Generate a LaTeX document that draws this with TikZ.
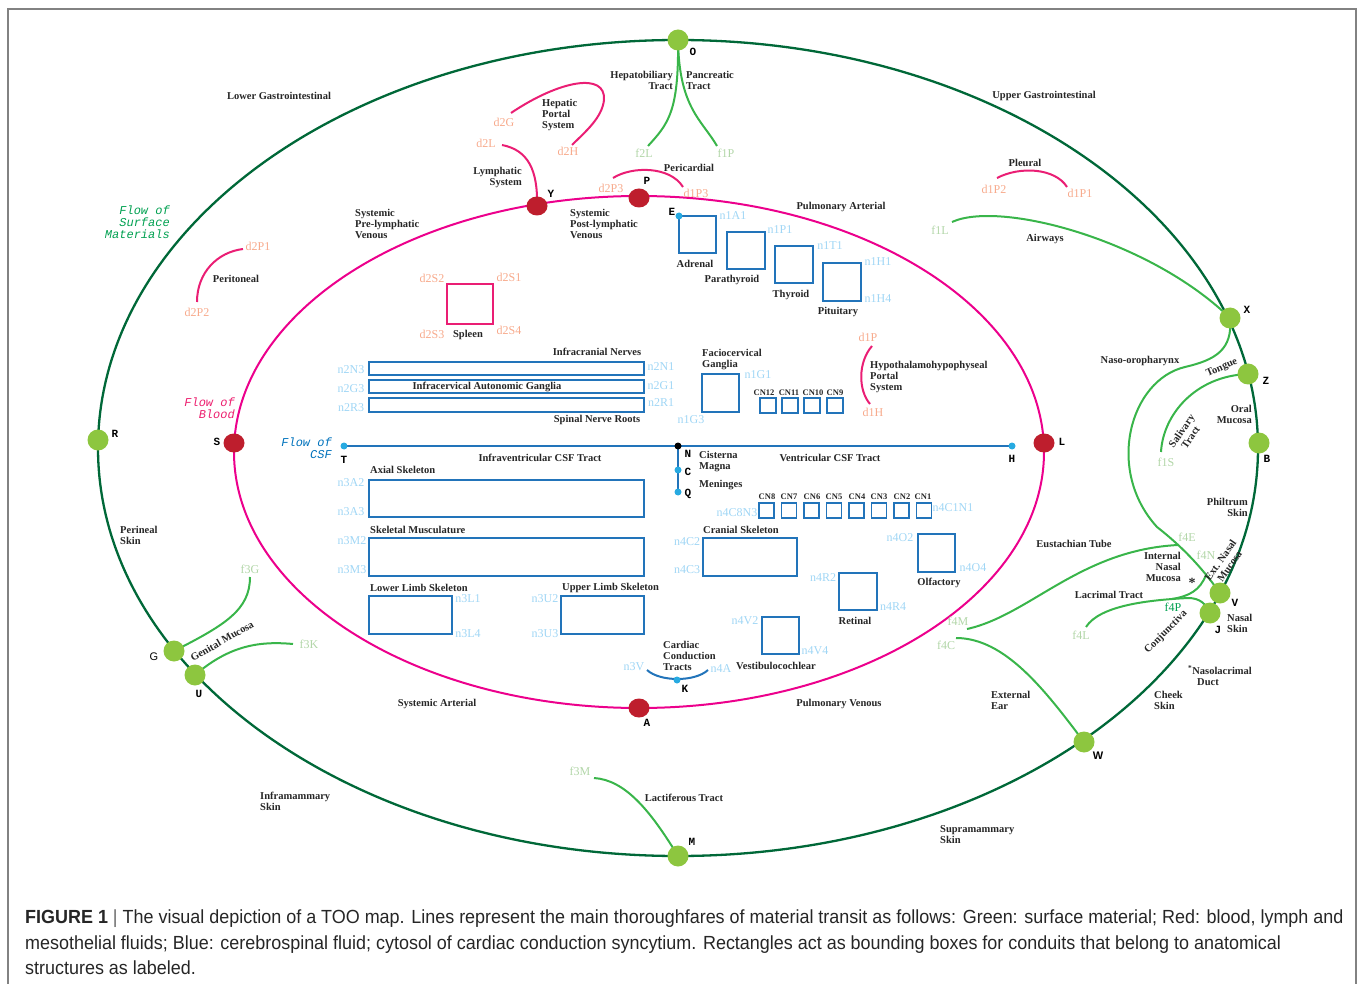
\documentclass[tikz,border=0pt]{standalone}
\usepackage{fontspec}
\setmainfont{Liberation Serif}
\newfontfamily\MonoF{Liberation Mono}
\newfontfamily\SansF{Liberation Sans}
\newfontfamily\CapF[FakeStretch=0.945]{Liberation Sans}
\usetikzlibrary{backgrounds,shapes.geometric}
\definecolor{dkgreen}{RGB}{0,104,56}
\definecolor{lgreen}{RGB}{57,181,74}
\definecolor{nodegreen}{RGB}{141,198,63}
\definecolor{lbgreen}{RGB}{178,214,168}
\definecolor{txtgreen}{RGB}{0,160,80}
\definecolor{magc}{RGB}{236,0,140}
\definecolor{pinkc}{RGB}{234,30,116}
\definecolor{reddot}{RGB}{190,30,45}
\definecolor{salmon}{RGB}{247,170,140}
\definecolor{boxblue}{RGB}{34,116,186}
\definecolor{dotblue}{RGB}{39,170,225}
\definecolor{lblblue}{RGB}{160,214,245}
\definecolor{csfblue}{RGB}{0,114,188}
\definecolor{bloodc}{RGB}{236,30,110}
\definecolor{framec}{RGB}{130,130,130}
\begin{document}
\begin{tikzpicture}[x=1pt,y=-1pt,
  gdot/.style={circle,fill=nodegreen,minimum size=21pt,inner sep=0pt},
  rdot/.style={ellipse,fill=reddot,minimum width=21pt,minimum height=19pt,inner sep=0pt},
  bdot/.style={circle,fill=dotblue,minimum size=7pt,inner sep=0pt},
  kdot/.style={circle,fill=black,minimum size=7pt,inner sep=0pt},
  lett/.style={font={\MonoF\bfseries\fontsize{11}{11}\selectfont},inner sep=0pt},
  slett/.style={font={\SansF\fontsize{11}{11}\selectfont},inner sep=0pt},
  lbl/.style={font={\bfseries\fontsize{10.5}{11}\selectfont},inner sep=0pt,text=black!85},
  cnl/.style={font={\bfseries\fontsize{8.5}{9}\selectfont},inner sep=0pt,text=black!85},
  nl/.style={font={\fontsize{12}{12}\selectfont},inner sep=0pt,text=lblblue},
  dl/.style={font={\fontsize{12}{12}\selectfont},inner sep=0pt,text=salmon},
  fl/.style={font={\fontsize{12}{12}\selectfont},inner sep=0pt,text=lbgreen},
  flowt/.style={font={\MonoF\itshape\fontsize{12}{12}\selectfont},inner sep=0pt,align=right},
  bx/.style={draw=boxblue,line width=2pt},
  cnb/.style={draw=boxblue,line width=1.8pt},
  gline/.style={draw=lgreen,line width=2pt},
  pline/.style={draw=pinkc,line width=2pt},
  capt/.style={font={\CapF\fontsize{19}{19}\selectfont},inner sep=0pt,text=black!85}
]
\useasboundingbox (0,0) rectangle (1358,984);
\draw[framec,line width=1.5pt] (8,984) -- (8,9) -- (1356,9) -- (1356,984);

% ---------- rectangles ----------
\draw[bx] (369,362) rectangle (644,375);
\draw[bx] (369,380) rectangle (644,393);
\draw[bx] (369,398) rectangle (644,412);
\draw[bx] (369,480) rectangle (644,517);
\draw[bx] (369,538) rectangle (644,576);
\draw[bx] (369,596) rectangle (452,634);
\draw[bx] (561,596) rectangle (644,634);
\draw[bx] (702,374) rectangle (739,412);
\draw[bx] (679,216) rectangle (716,253);
\draw[bx] (727,232) rectangle (765,269);
\draw[bx] (775,246) rectangle (813,283);
\draw[bx] (823,263) rectangle (861,301);
\draw[bx] (703,538) rectangle (797,576);
\draw[bx] (918,534) rectangle (955,572);
\draw[bx] (839,573) rectangle (877,610);
\draw[bx] (762,617) rectangle (799,654);
\draw[pline] (447,284) rectangle (493,324);
\foreach \x in {760,782,804,827}{\draw[cnb] (\x,398) rectangle ++(16,15);}
\foreach \x in {759,781.5,804,826.5,849,871.5,894,916.5}{\draw[cnb] (\x,503) rectangle ++(15,15);}

% ---------- dots ----------
\node[gdot] (O) at (678,40) {};
\node[gdot] (R) at (98,440) {};
\node[gdot] (X) at (1230,318) {};
\node[gdot] (Z) at (1248,374) {};
\node[gdot] (B) at (1259,443) {};
\node[gdot] (V) at (1220,593) {};
\node[gdot] (J) at (1210,613) {};
\node[gdot] (W) at (1084,742) {};
\node[gdot] (M) at (678,856) {};
\node[gdot] (G) at (174,651) {};
\node[gdot] (U) at (195,675) {};
\node[rdot] (Y) at (537,206) {};
\node[rdot] (P) at (639,198) {};
\node[rdot] (S) at (234,443) {};
\node[rdot] (L) at (1044,443) {};
\node[rdot] (A) at (639,708) {};
\node[bdot] (T) at (344,446) {};
\node[bdot] (H) at (1012,446) {};
\node[kdot] (N) at (678,446) {};
\node[bdot] (C) at (678,470) {};
\node[bdot] (Q) at (678,492) {};
\node[bdot] (E) at (679,216) {};
\node[bdot] (K) at (677,680) {};

% ---------- letters ----------
\node[lett] (lO) at (693,52) {O};
\node[lett] (lR) at (115,434) {R};
\node[lett] (lX) at (1247,310) {X};
\node[lett] (lZ) at (1266,381) {Z};
\node[lett] (lB) at (1267,459) {B};
\node[lett] (lV) at (1235,603) {V};
\node[lett] (lJ) at (1218,630) {J};
\node[slett,font={\SansF\bfseries\fontsize{11}{11}\selectfont}] (lW) at (1098,756) {W};
\node[lett] (lM) at (692,842) {M};
\node[slett] (lG) at (154,657) {G};
\node[lett] (lU) at (199,694) {U};
\node[lett] (lY) at (551,194) {Y};
\node[lett] (lP) at (647,181) {P};
\node[lett] (lS) at (217,442) {S};
\node[lett] (lL) at (1062,442) {L};
\node[lett] (lA) at (647,723) {A};
\node[lett] (lT) at (344,460) {T};
\node[lett] (lH) at (1012,459) {H};
\node[lett] (lN) at (688,454) {N};
\node[lett] (lC) at (688,472) {C};
\node[lett] (lQ) at (688,494) {Q};
\node[lett] (lE) at (672,212) {E};
\node[lett] (lK) at (685,689) {K};

% ---------- flow texts ----------
\node[flowt,text=txtgreen,anchor=east] (fsm) at (170,222) {Flow of\\Surface\\Materials};
\node[flowt,text=bloodc,anchor=east] (fbl) at (235,408) {Flow of\\Blood};
\node[flowt,text=csfblue,anchor=east] (fcsf) at (332,448) {Flow of\\CSF};

% ---------- black labels ----------
\node[lbl] (t1) at (279,96) {Lower Gastrointestinal};
\node[lbl] (t2) at (1044,96) {Upper Gastrointestinal};
\node[lbl,anchor=east,align=right] (t3) at (673,80.5) {Hepatobiliary\\Tract};
\node[lbl,anchor=west,align=left] (t4) at (686,80.5) {Pancreatic\\Tract};
\node[lbl,anchor=west,align=left] (t5) at (542,115) {Hepatic\\Portal\\System};
\node[lbl,anchor=east,align=right] (t6) at (522,177.5) {Lymphatic\\System};
\node[lbl] (t7) at (689,168) {Pericardial};
\node[lbl,anchor=west,align=left] (t8) at (355,224) {Systemic\\Pre-lymphatic\\Venous};
\node[lbl,anchor=west,align=left] (t9) at (570,224) {Systemic\\Post-lymphatic\\Venous};
\node[lbl] (t10) at (841,207) {Pulmonary Arterial};
\node[lbl] (t11) at (695,264) {Adrenal};
\node[lbl] (t12) at (732,280) {Parathyroid};
\node[lbl] (t13) at (791,295) {Thyroid};
\node[lbl] (t14) at (838,312) {Pituitary};
\node[lbl] (t15) at (1025,163) {Pleural};
\node[lbl] (t16) at (1045,239) {Airways};
\node[lbl] (t17) at (236,279) {Peritoneal};
\node[lbl] (t18) at (468,335) {Spleen};
\node[lbl] (t19) at (597,352) {Infracranial Nerves};
\node[lbl] (t20) at (487,387) {Infracervical Autonomic Ganglia};
\node[lbl] (t21) at (597,420) {Spinal Nerve Roots};
\node[lbl] (t22) at (540,458) {Infraventricular CSF Tract};
\node[lbl,anchor=west] (t23) at (370,470) {Axial Skeleton};
\node[lbl,anchor=west,align=left] (t24) at (702,359.5) {Faciocervical\\Ganglia};
\node[lbl,anchor=west,align=left] (t25) at (870,377) {Hypothalamohypophyseal\\Portal\\System};
\node[lbl] (t26) at (830,458) {Ventricular CSF Tract};
\node[lbl,anchor=west,align=left] (t27) at (699,461.5) {Cisterna\\Magna};
\node[lbl,anchor=west] (t28) at (699,485) {Meninges};
\node[lbl,anchor=west] (t29) at (370,530) {Skeletal Musculature};
\node[lbl,anchor=west] (t30) at (370,588) {Lower Limb Skeleton};
\node[lbl,anchor=west] (t31) at (562,588) {Upper Limb Skeleton};
\node[lbl,anchor=west] (t32) at (703,530) {Cranial Skeleton};
\node[lbl] (t33) at (939,583) {Olfactory};
\node[lbl] (t34) at (855,621) {Retinal};
\node[lbl] (t35) at (776,666) {Vestibulocochlear};
\node[lbl,anchor=west,align=left] (t36) at (663,656) {Cardiac\\Conduction\\Tracts};
\node[lbl] (t37) at (437,704) {Systemic Arterial};
\node[lbl] (t38) at (839,704) {Pulmonary Venous};
\node[lbl,anchor=west,align=left] (t39) at (991,700) {External\\Ear};
\node[lbl] (t40) at (1140,361) {Naso-oropharynx};
\node[lbl,rotate=24] (t41) at (1222,368) {Tongue};
\node[lbl,anchor=east,align=right] (t42) at (1252,414.5) {Oral\\Mucosa};
\node[lbl,rotate=55,align=center] (t43) at (1186,434) {Salivary\\Tract};
\node[lbl,anchor=east,align=right] (t44) at (1248,507.5) {Philtrum\\Skin};
\node[lbl] (t45) at (1074,544) {Eustachian Tube};
\node[lbl,anchor=east,align=right] (t46) at (1181,567) {Internal\\Nasal\\Mucosa};
\node[lbl,font={\bfseries\fontsize{14}{14}\selectfont}] (t47) at (1192,583) {*};
\node[lbl,rotate=55,align=center] (t48) at (1225,563) {Ext. Nasal\\Mucosa};
\node[lbl] (t49) at (1109,595) {Lacrimal Tract};
\node[lbl,rotate=45] (t50) at (1166,632) {Conjunctiva};
\node[lbl,anchor=west,align=left] (t51) at (1227,623.5) {Nasal\\Skin};
\node[lbl,anchor=west,align=left] (t52) at (1188,675.5) {\textsuperscript{*}Nasolacrimal\\\hspace*{9pt}Duct};
\node[lbl,anchor=west,align=left] (t53) at (1154,700.5) {Cheek\\Skin};
\node[lbl,anchor=west,align=left] (t54) at (940,834.5) {Supramammary\\Skin};
\node[lbl] (t55) at (684,798) {Lactiferous Tract};
\node[lbl,anchor=west,align=left] (t56) at (260,801) {Inframammary\\Skin};
\node[lbl,anchor=west,align=left] (t57) at (120,535.5) {Perineal\\Skin};
\node[lbl,rotate=30] (t58) at (222,641) {Genital Mucosa};
% CN labels
\node[cnl] (cn12) at (764,393) {CN12};
\node[cnl] (cn11) at (789,393) {CN11};
\node[cnl] (cn10) at (813,393) {CN10};
\node[cnl] (cn9) at (835,393) {CN9};
\node[cnl] (cn8) at (767,497) {CN8};
\node[cnl] (cn7) at (789,497) {CN7};
\node[cnl] (cn6) at (812,497) {CN6};
\node[cnl] (cn5) at (834,497) {CN5};
\node[cnl] (cn4) at (857,497) {CN4};
\node[cnl] (cn3) at (879,497) {CN3};
\node[cnl] (cn2) at (902,497) {CN2};
\node[cnl] (cn1) at (923,497) {CN1};

% ---------- small coloured labels ----------
\node[dl] (d2G) at (504,122) {d2G};
\node[dl] (d2L) at (486,143) {d2L};
\node[dl] (d2H) at (568,151) {d2H};
\node[fl] (f2L) at (644,153) {f2L};
\node[fl] (f1P) at (726,153) {f1P};
\node[dl] (d2P3) at (611,188) {d2P3};
\node[dl] (d1P3) at (696,193) {d1P3};
\node[nl] (n1A1) at (733,216) {n1A1};
\node[nl] (n1P1) at (780,230) {n1P1};
\node[nl] (n1T1) at (830,246) {n1T1};
\node[nl] (n1H1) at (878,262) {n1H1};
\node[nl] (n1H4) at (878,299) {n1H4};
\node[dl] (d1P2) at (994,189) {d1P2};
\node[dl] (d1P1) at (1080,193) {d1P1};
\node[fl] (f1L) at (940,230) {f1L};
\node[dl] (d2P1) at (258,246) {d2P1};
\node[dl] (d2P2) at (197,312) {d2P2};
\node[dl] (d2S2) at (432,278) {d2S2};
\node[dl] (d2S1) at (509,277) {d2S1};
\node[dl] (d2S3) at (432,334) {d2S3};
\node[dl] (d2S4) at (509,330) {d2S4};
\node[nl] (n2N3) at (351,370) {n2N3};
\node[nl] (n2G3) at (351,389) {n2G3};
\node[nl] (n2R3) at (351,408) {n2R3};
\node[nl] (n2N1) at (661,367) {n2N1};
\node[nl] (n2G1) at (661,386) {n2G1};
\node[nl] (n2R1) at (661,403) {n2R1};
\node[nl] (n1G1) at (758,375) {n1G1};
\node[nl] (n1G3) at (691,420) {n1G3};
\node[dl] (d1P) at (868,337) {d1P};
\node[dl] (d1H) at (873,412) {d1H};
\node[nl] (n3A2) at (351,483) {n3A2};
\node[nl] (n3A3) at (351,512) {n3A3};
\node[nl] (n3M2) at (352,541) {n3M2};
\node[nl] (n3M3) at (352,570) {n3M3};
\node[nl] (n3L1) at (468,599) {n3L1};
\node[nl] (n3L4) at (468,634) {n3L4};
\node[nl] (n3U2) at (545,599) {n3U2};
\node[nl] (n3U3) at (545,634) {n3U3};
\node[nl] (n4C8N3) at (737,513) {n4C8N3};
\node[nl] (n4C1N1) at (953,508) {n4C1N1};
\node[nl] (n4C2) at (687,542) {n4C2};
\node[nl] (n4C3) at (687,570) {n4C3};
\node[nl] (n4O2) at (900,538) {n4O2};
\node[nl] (n4O4) at (973,568) {n4O4};
\node[nl] (n4R2) at (823,578) {n4R2};
\node[nl] (n4R4) at (893,607) {n4R4};
\node[nl] (n4V2) at (745,621) {n4V2};
\node[nl] (n4V4) at (815,651) {n4V4};
\node[nl] (n3V) at (634,667) {n3V};
\node[nl] (n4A) at (721,669) {n4A};
\node[fl] (f1S) at (1166,462) {f1S};
\node[fl] (f4E) at (1187,537) {f4E};
\node[fl] (f4N) at (1206,555) {f4N};
\node[fl,text=txtgreen] (f4P) at (1173,607) {f4P};
\node[fl] (f4L) at (1081,635) {f4L};
\node[fl] (f4M) at (958,621) {f4M};
\node[fl] (f4C) at (946,645) {f4C};
\node[fl] (f3G) at (250,569) {f3G};
\node[fl] (f3K) at (309,644) {f3K};
\node[fl] (f3M) at (580,771) {f3M};

% ---------- curve end coordinates ----------
\coordinate (e2L) at (648,146);
\coordinate (e1P) at (717,146);
\coordinate (hpA) at (511,113);
\coordinate (hpB) at (572,145);
\coordinate (lyA) at (502,145);
\coordinate (pcA) at (613,178);
\coordinate (pcB) at (683,187);
\coordinate (plA) at (997,178);
\coordinate (plB) at (1067,187);
\coordinate (awA) at (952,222);
\coordinate (noA) at (1185,367);
\coordinate (noB) at (1157,527);
\coordinate (e1S) at (1161,452);
\coordinate (euA) at (967,629);
\coordinate (euB) at (1178,545);
\coordinate (lcA) at (1086,627);
\coordinate (lcB) at (1188,598);
\coordinate (nlA) at (1206,575);
\coordinate (nlB) at (1172,599);
\coordinate (eeA) at (956,638);
\coordinate (e3G) at (250,577);
\coordinate (e3K) at (293,644);
\coordinate (e3M) at (594,778);
\coordinate (ptA) at (197,302);
\coordinate (ptB) at (243,249);
\coordinate (hyA) at (872,346);
\coordinate (hyB) at (870,404);
\coordinate (ccA) at (647,670);
\coordinate (ccB) at (708,670);

% ---------- caption ----------
\node[capt,anchor=base west] (cap1) at (25,923) {\textbf{FIGURE 1} {\color{black!60}|} The visual depiction of a TOO map. Lines represent the main thoroughfares of material transit as follows: Green: surface material; Red: blood, lymph and};
\node[capt,anchor=base west] (cap2) at (25,949) {mesothelial fluids; Blue: cerebrospinal fluid; cytosol of cardiac conduction syncytium. Rectangles act as bounding boxes for conduits that belong to anatomical};
\node[capt,anchor=base west] (cap3) at (25,974) {structures as labeled.};

% ---------- background lines ----------
\begin{scope}[on background layer]
\draw[dkgreen,line width=2.3pt] (678,448) ellipse [x radius=580pt, y radius=408pt];
\draw[magc,line width=2pt] (639,452) ellipse [x radius=405pt, y radius=256pt];
\draw[boxblue,line width=2pt] (T.center) -- (H.center);
\draw[boxblue,line width=2pt] (N.center) -- (Q.center);
\draw[gline] (O.center) .. controls (679,112) and (668,124) .. (e2L);
\draw[gline] (O.center) .. controls (679,108) and (702,120) .. (e1P);
\draw[pline] (hpA) .. controls (560,80) and (606,72) .. (604,100) .. controls (602,118) and (585,132) .. (hpB);
\draw[pline] (lyA) .. controls (528,150) and (538,170) .. (Y.center);
\draw[pline] (pcA) .. controls (632,166) and (670,166) .. (pcB);
\draw[pline] (plA) .. controls (1020,166) and (1055,168) .. (plB);
\draw[pline] (ptA) .. controls (197,272) and (218,252) .. (ptB);
\draw[pline] (hyA) .. controls (858,362) and (858,390) .. (hyB);
\draw[gline] (awA) .. controls (1000,200) and (1150,240) .. (X.center);
\draw[gline] (X.center) .. controls (1233,350) and (1215,360) .. (noA) .. controls (1130,380) and (1105,470) .. (noB) .. controls (1180,545) and (1200,565) .. (V.center);
\draw[gline] (Z.center) .. controls (1195,376) and (1163,415) .. (e1S);
\draw[gline] (euA) .. controls (1030,615) and (1080,550) .. (euB);
\draw[gline] (lcA) .. controls (1100,605) and (1150,600) .. (lcB) .. controls (1200,598) and (1206,604) .. (J.center);
\draw[gline] (nlA) .. controls (1200,590) and (1190,596) .. (nlB);
\draw[gline] (eeA) .. controls (1005,638) and (1045,690) .. (W.center);
\draw[gline] (G.center) .. controls (225,625) and (250,610) .. (e3G);
\draw[gline] (U.center) .. controls (230,645) and (260,641) .. (e3K);
\draw[gline] (e3M) .. controls (625,780) and (650,810) .. (M.center);
\draw[boxblue,line width=2pt] (ccA) .. controls (660,682) and (695,682) .. (ccB);
\end{scope}
\end{tikzpicture}
\end{document}
